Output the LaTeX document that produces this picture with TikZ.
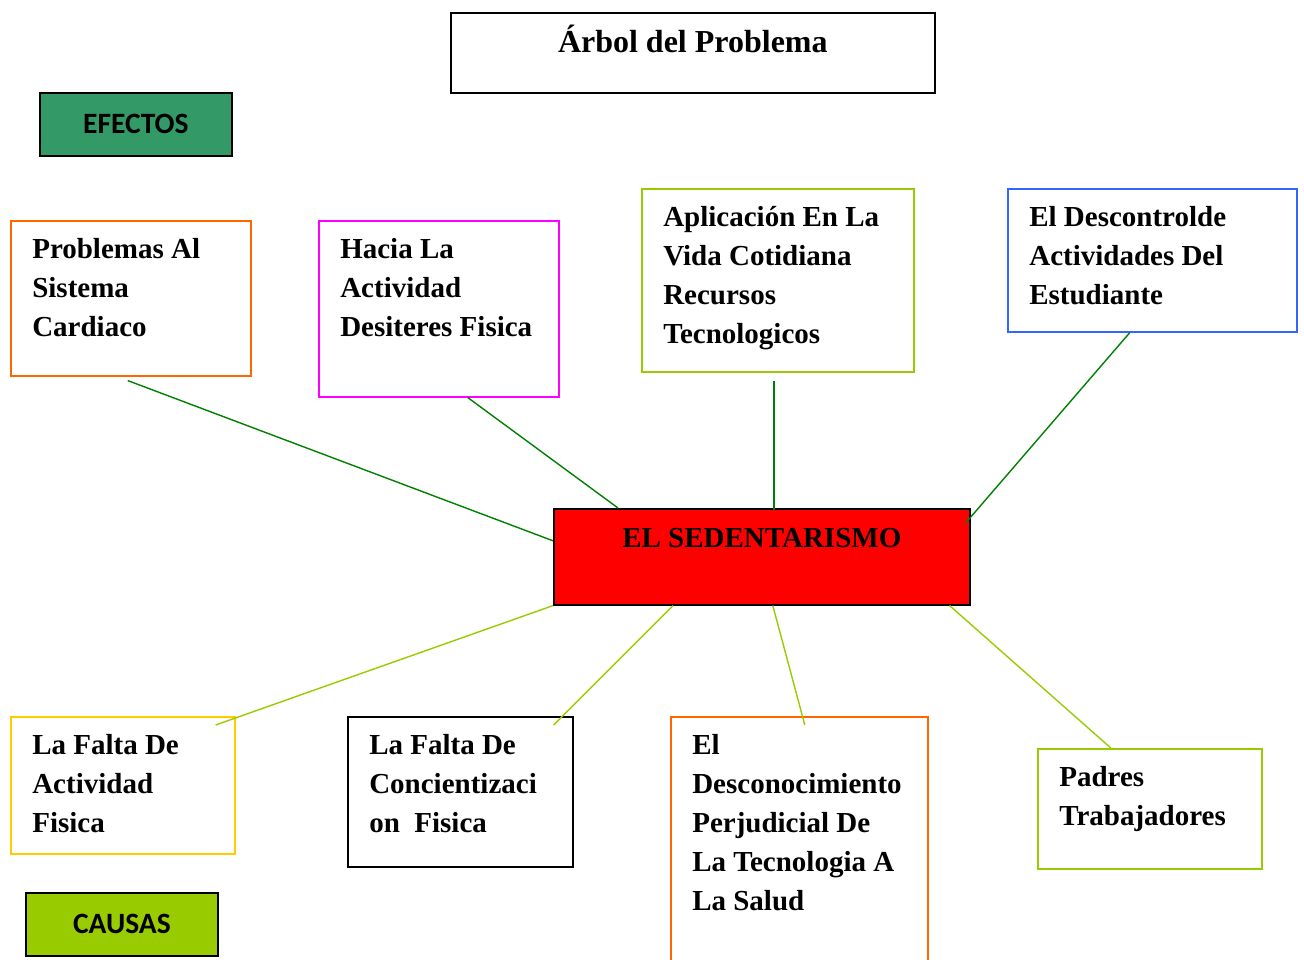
\documentclass[tikz,border=0pt]{standalone}
\usepackage{fontspec}
\setmainfont{Liberation Serif}
\newfontfamily\tagfont{Carlito}
\definecolor{efgreen}{RGB}{51,153,102}
\definecolor{cagreen}{RGB}{153,204,0}
\definecolor{linkgreen}{RGB}{0,128,0}
\definecolor{orangeb}{RGB}{255,102,0}
\definecolor{magentab}{RGB}{255,0,255}
\definecolor{blueb}{RGB}{51,102,255}
\definecolor{yellowb}{RGB}{255,204,0}
% text block of a box: width, height, lines
\newcommand{\boxtxt}[3]{\parbox[c][#2][t]{#1}{\raggedright\leftskip=21.5pt\rule{0pt}{38pt}#3}}

\begin{document}
\begin{tikzpicture}[x=1pt, y=-1pt,
    card/.style={draw=#1, line width=1.6pt, inner sep=0pt, anchor=north west,
                 font=\fontsize{29}{38.8}\selectfont\bfseries},
    tag/.style={draw=black, line width=1.8pt, inner sep=0pt, anchor=north west,
                minimum width=192pt, minimum height=63pt,
                font=\tagfont\bfseries\fontsize{29.5}{34}\selectfont},
    upl/.style={linkgreen, line width=1.4pt},
    dnl/.style={cagreen, line width=1.4pt}]
    \useasboundingbox (0,0) rectangle (1304,960);

    % title and tags
    \node[card=black, font=\fontsize{32}{38}\selectfont\bfseries] (titulo) at (450,12)
        {\parbox[c][80pt][t]{484pt}{\centering\rule{0pt}{40pt}Árbol del Problema}};
    \node[tag, fill=efgreen] (efectos) at (39,92) {EFECTOS};
    \node[tag, fill=cagreen] (causas) at (25,892) {CAUSAS};

    % effects
    \node[card=orangeb] (prob) at (10,220) {\boxtxt{240pt}{155pt}{Problemas Al\\Sistema\\Cardiaco}};
    \node[card=magentab] (hacia) at (318,220) {\boxtxt{240pt}{176pt}{Hacia La\\Actividad\\Desiteres Fisica}};
    \node[card=cagreen] (aplic) at (641,188) {\boxtxt{272pt}{183pt}{Aplicación En La\\Vida Cotidiana\\Recursos\\Tecnologicos}};
    \node[card=blueb] (desc) at (1007,188) {\boxtxt{289pt}{143pt}{El Descontrolde\\Actividades Del\\Estudiante}};

    % problem
    \node[card=black, fill=red] (sed) at (553,508)
        {\parbox[c][96pt][t]{416pt}{\centering\rule{0pt}{39pt}EL SEDENTARISMO}};

    % causes
    \node[card=yellowb] (falta) at (10,716) {\boxtxt{224pt}{137pt}{La Falta De\\Actividad\\Fisica}};
    \node[card=black] (conc) at (347,716) {\boxtxt{225pt}{150pt}{La Falta De\\Concientizaci\\on~ Fisica}};
    \node[card=orangeb] (descon) at (670,716) {\boxtxt{257pt}{259pt}{El\\Desconocimiento\\Perjudicial De\\La Tecnologia A\\La Salud}};
    \node[card=cagreen] (padres) at (1037,748) {\boxtxt{224pt}{120pt}{Padres\\Trabajadores}};

    % links
    \draw[upl] ([shift={(-3,4)}]prob.south) -- ([shift={(0,-16)}]sed.west);
    \draw[upl] ([shift={(29,0)}]hacia.south) -- ([shift={(65,0)}]sed.north west);
    \draw[upl] ([shift={(-4,8)}]aplic.south) -- ([shift={(12,2)}]sed.north);
    \draw[upl] ([shift={(-22.5,0)}]desc.south) -- ([shift={(-5,15)}]sed.north east);
    \draw[dnl] (sed.south west) -- ([shift={(-20,9)}]falta.north east);
    \draw[dnl] ([shift={(120,0)}]sed.south west) -- ([shift={(-20,9)}]conc.north east);
    \draw[dnl] ([shift={(11,0)}]sed.south) -- ([shift={(5.5,9)}]descon.north);
    \draw[dnl] ([shift={(-21,0)}]sed.south east) -- ([shift={(-39,0)}]padres.north);
\end{tikzpicture}
\end{document}
